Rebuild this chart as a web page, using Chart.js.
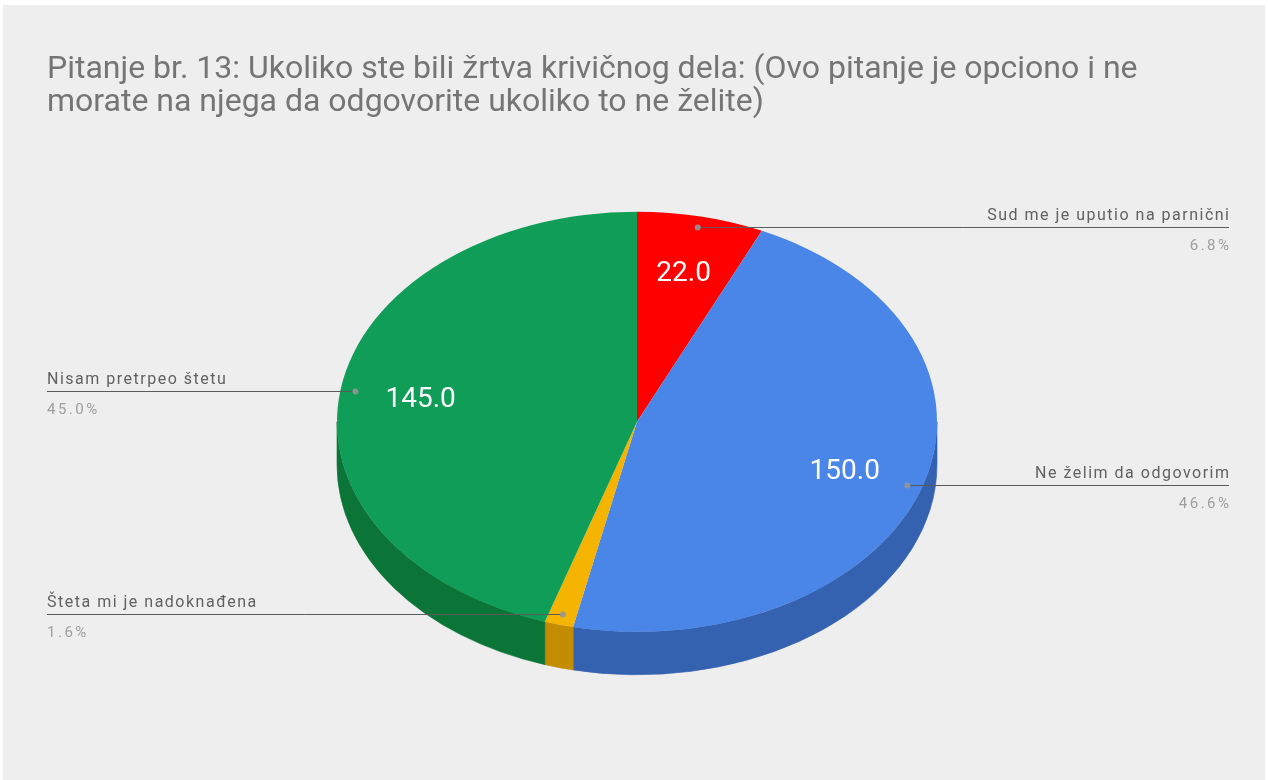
<!DOCTYPE html>
<html>
<head>
<meta charset="utf-8">
<script src="https://cdn.jsdelivr.net/npm/chart.js@4.4.1/dist/chart.umd.min.js"></script>
<style>
  html, body { margin: 0; padding: 0; background: #ffffff; }
  #wrap { position: absolute; left: 0; top: 0; width: 1268px; height: 780px; }
</style>
</head>
<body>
<div id="wrap"><canvas id="chart" width="1268" height="780"></canvas></div>
<script>
// Survey question 13: answers and their counts
const titleLines = [
  'Pitanje br. 13: Ukoliko ste bili žrtva krivičnog dela: (Ovo pitanje je opciono i ne',
  'morate na njega da odgovorite ukoliko to ne želite)'
];
const categories = [
  'Sud me je uputio na parnični',
  'Ne želim da odgovorim',
  'Šteta mi je nadoknađena',
  'Nisam pretrpeo štetu'
];
const counts = [22, 150, 5, 145];

// Slice colours: top face and the darker rim below it
const topColors  = ['#ff0000', '#4a86e8', '#f4b400', '#0f9d58'];
const sideColors = ['#b30000', '#3462b0', '#c48c00', '#0b7537'];

const TILT = 0.7;    // vertical squash of the pie disc
const DEPTH = 43;    // thickness of the disc in px
const FONT = 'Roboto, "Noto Sans", sans-serif';

const total = counts.reduce((s, v) => s + v, 0);
const percentText = v => (v / total * 100).toFixed(1) + '%';

const pie3d = {
  id: 'pie3d',
  beforeDraw(chart) {
    const ctx = chart.ctx;
    ctx.save();
    ctx.fillStyle = '#eeeeee';
    ctx.fillRect(3, 5, chart.width - 6, chart.height - 5);
    ctx.restore();
  },
  beforeDatasetsDraw(chart) {
    const ctx = chart.ctx;
    const arcs = chart.getDatasetMeta(0).data;
    // rim of the disc: only the front half (canvas angles 0..PI) is visible
    arcs.forEach((a, i) => {
      const s = Math.max(a.startAngle, 0);
      const e = Math.min(a.endAngle, Math.PI);
      if (e <= s) return;
      const rx = a.outerRadius, ry = a.outerRadius * TILT;
      ctx.beginPath();
      ctx.ellipse(a.x, a.y, rx, ry, 0, s, e);
      ctx.ellipse(a.x, a.y + DEPTH, rx, ry, 0, e, s, true);
      ctx.closePath();
      ctx.fillStyle = sideColors[i];
      ctx.strokeStyle = sideColors[i];
      ctx.lineWidth = 0.6;
      ctx.fill();
      ctx.stroke();
    });
    // squash the top face into an ellipse
    const a0 = arcs[0];
    ctx.save();
    ctx.translate(a0.x, a0.y);
    ctx.scale(1, TILT);
    ctx.translate(-a0.x, -a0.y);
  },
  afterDatasetsDraw(chart) {
    const ctx = chart.ctx;
    ctx.restore();
    const arcs = chart.getDatasetMeta(0).data;
    const area = chart.chartArea;
    arcs.forEach((a, i) => {
      const mid = (a.startAngle + a.endAngle) / 2;
      const R = a.outerRadius;
      const cx = Math.cos(mid), sy = Math.sin(mid);
      const px = a.x + cx * R * 0.95;
      const py = Math.round(a.y + sy * R * 0.95 * TILT) + 0.5;
      const onRight = cx >= 0;
      const edge = onRight ? area.right + 2 : area.left;

      // leader line
      ctx.save();
      ctx.strokeStyle = '#5a5a5a';
      ctx.lineWidth = 1;
      ctx.beginPath();
      ctx.moveTo(px, py);
      ctx.lineTo(edge, py);
      ctx.stroke();
      ctx.fillStyle = 'rgba(150,150,150,0.9)';
      ctx.beginPath();
      ctx.arc(px, py, 3, 0, Math.PI * 2);
      ctx.fill();

      // category name above the line, share below it
      ctx.textAlign = onRight ? 'right' : 'left';
      ctx.textBaseline = 'alphabetic';
      ctx.fillStyle = '#616161';
      ctx.font = '16px ' + FONT;
      ctx.letterSpacing = '1.5px';
      ctx.fillText(categories[i], onRight ? edge + 1.5 : edge, py - 8);
      ctx.fillStyle = '#9e9e9e';
      ctx.font = '15px ' + FONT;
      ctx.letterSpacing = '2.5px';
      ctx.fillText(percentText(counts[i]), onRight ? edge + 2.5 : edge, py + 22);
      ctx.letterSpacing = '0px';

      // value inside the slice (skipped for very thin slices)
      if (counts[i] / total >= 0.05) {
        const vx = a.x + cx * R * 0.73;
        const vy = a.y + sy * R * 0.73 * TILT;
        ctx.fillStyle = '#ffffff';
        ctx.font = '28px ' + FONT;
        ctx.textAlign = 'center';
        ctx.textBaseline = 'middle';
        ctx.fillText(counts[i].toFixed(1), vx, vy + 2);
      }
      ctx.restore();
    });
  }
};

new Chart(document.getElementById('chart'), {
  type: 'pie',
  data: {
    labels: categories,
    datasets: [{
      data: counts,
      backgroundColor: topColors,
      borderWidth: 0,
      radius: 300
    }]
  },
  options: {
    responsive: false,
    animation: false,
    events: [],
    layout: { padding: { left: 47, right: 41, top: 0, bottom: 56 } },
    plugins: {
      legend: { display: false },
      tooltip: { enabled: false },
      title: {
        display: true,
        text: titleLines,
        align: 'start',
        color: '#757575',
        font: { family: FONT, size: 32, weight: 'normal', lineHeight: 1.04 },
        padding: { top: 53, bottom: 0 }
      }
    }
  },
  plugins: [pie3d]
});
</script>
</body>
</html>
